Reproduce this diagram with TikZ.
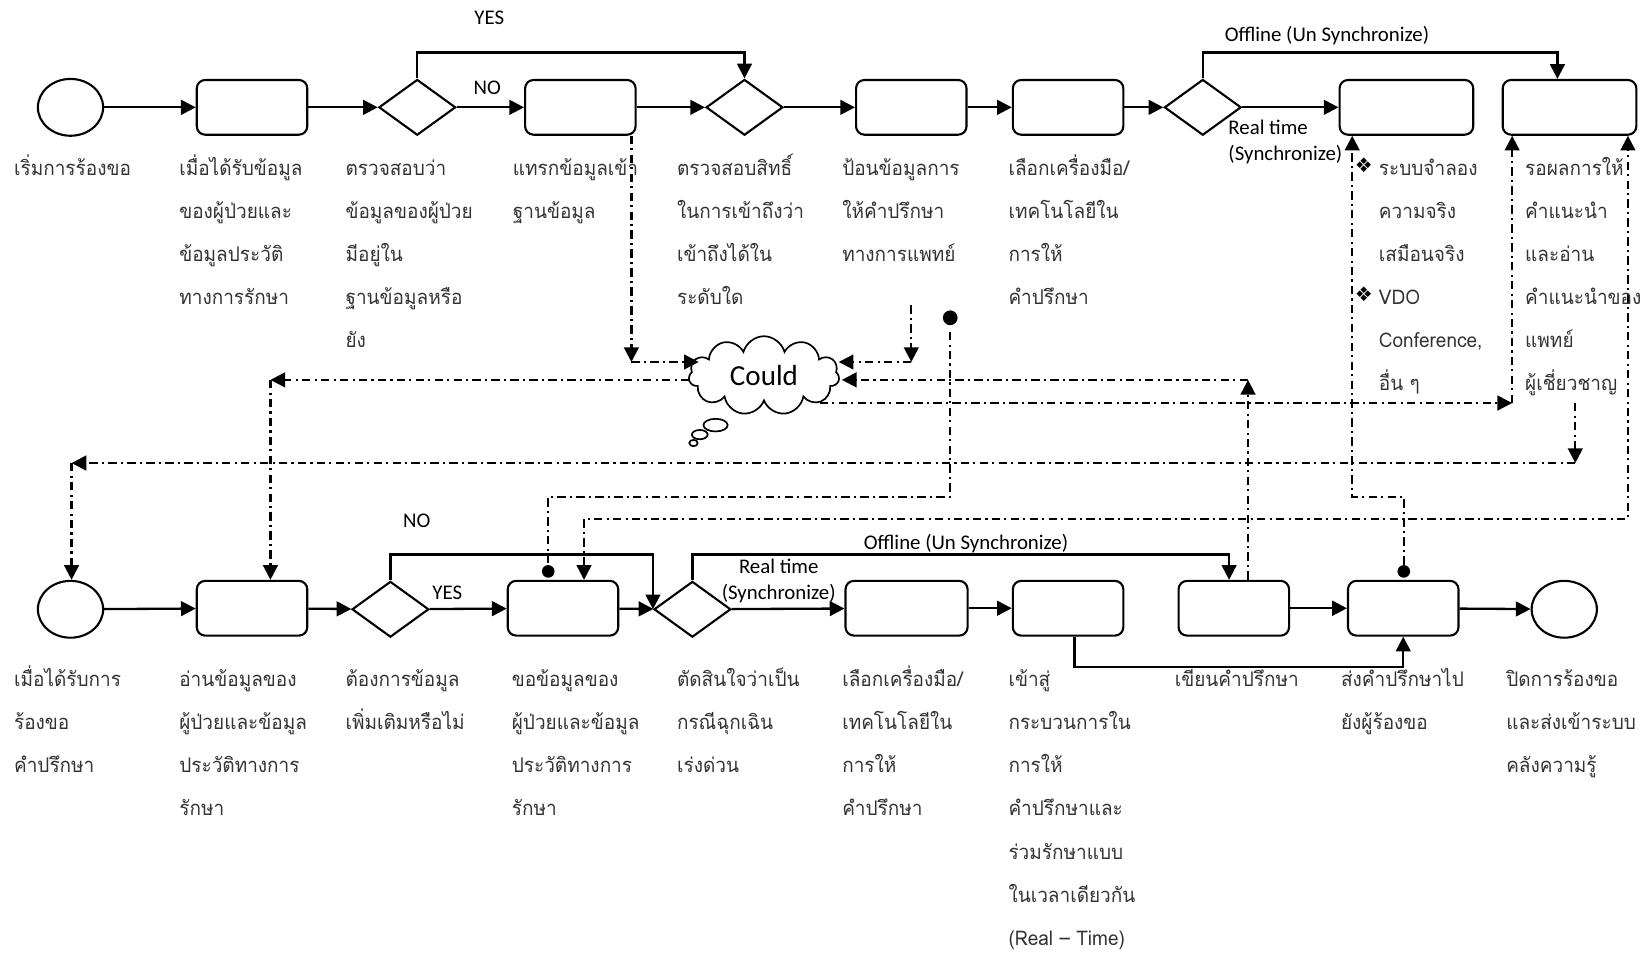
\documentclass[tikz,border=0pt]{standalone}
\usepackage{fontspec}
\usetikzlibrary{shapes.geometric,shapes.symbols,arrows.meta,calc}
\newfontfamily\thaif[Script=Thai,FakeStretch=0.94]{Loma}
\newfontfamily\latf{Carlito}
\newfontfamily\djv{DejaVu Sans}
\begin{document}
\begin{tikzpicture}[x=0.5pt,y=-0.5pt,
 box/.style={draw, rounded corners=4pt, minimum width=52.5pt, minimum height=26pt, inner sep=0, line width=1pt},
 dec/.style={draw, diamond, minimum width=36.5pt, minimum height=26.5pt, inner sep=0, line width=1pt},
 term/.style={draw, ellipse, minimum width=31pt, minimum height=27pt, inner sep=0, line width=1pt},
 flow/.style={line width=1.1pt, -{Triangle[length=7pt,width=7pt]}},
 dd/.style={line width=1.1pt, dash pattern=on 4pt off 2pt on 1pt off 2pt},
 ahead/.style={-{Triangle[length=7pt,width=7pt]}},
 txt/.style={anchor=north west, inner sep=0, align=left, font=\thaif\fontsize{9.6}{20.5}\selectfont, text=black!80},
 lab/.style={inner sep=0, font=\latf\fontsize{9.9}{12}\selectfont},
 dotn/.style={circle, fill, inner sep=0, minimum size=6pt},
 bul/.style={inner sep=0, font=\djv\fontsize{9.5}{12}\selectfont},
]
\useasboundingbox (0,0) rectangle (1568,906);
% ---------- top row ----------
\node[term] (s) at (67,102) {};
\node[box] (a1) at (239.5,102) {};
\node[dec] (d1) at (396.5,102) {};
\node[box] (a2) at (551.5,102) {};
\node[dec] (d2) at (707.5,102) {};
\node[box] (a3) at (866,102) {};
\node[box] (a4) at (1015,102) {};
\node[dec] (d3) at (1143,102) {};
\node[box, minimum width=63.5pt] (a5) at (1336.5,102) {};
\node[box, minimum width=63.5pt] (a6) at (1491.5,102) {};
% ---------- bottom row ----------
\node[term] (s2) at (67,579) {};
\node[box] (b1) at (239.5,578) {};
\node[dec] (e1) at (371,579) {};
\node[box] (b2) at (535,578) {};
\node[dec] (e2) at (658,579) {};
\node[box, minimum width=58pt] (b3) at (861.5,578) {};
\node[box] (b4) at (1015,578) {};
\node[box] (b5) at (1172.5,578) {};
\node[box] (b6) at (1333.5,578) {};
\node[term] (s3) at (1486.5,579) {};
% ---------- cloud ----------
\node[cloud, draw, cloud puffs=11, aspect=2, minimum width=71.5pt, minimum height=37.5pt, line width=0.8pt, inner sep=0, font=\latf\fontsize{13.8}{15}\selectfont] (cl) at (726,357) {Could};
\draw[line width=0.8pt] (680,404) ellipse [x radius=5.75pt, y radius=3pt];
\draw[line width=0.8pt] (665,413) ellipse [x radius=3.75pt, y radius=2.2pt];
\draw[line width=0.8pt] (659,421) ellipse [x radius=2pt, y radius=1.5pt];
% ---------- solid connectors top ----------
\draw[flow] (s) -- (a1);
\draw[flow] (a1) -- (d1);
\draw[flow] (d1) -- (a2);
\draw[flow] (d1.north) -- (d1.north |- 0,50) -| (d2.north);
\draw[flow] (a2) -- (d2);
\draw[flow] (d2) -- (a3);
\draw[flow] (a3) -- (a4);
\draw[flow] (a4) -- (d3);
\draw[flow] (d3) -- (a5);
\draw[flow] (d3.north) -- (d3.north |- 0,50) -| ([xshift=-5.75pt]a6.north);
% ---------- solid connectors bottom ----------
\draw[flow] (s2) -- (b1);
\draw[flow] (b1) -- (e1);
\draw[flow] (e1) -- (b2);
\draw[flow] (e1.north) -- (e1.north |- 0,527) -| (e2.west);
\draw[flow] (b2) -- (e2);
\draw[flow] (e2) -- (b3);
\draw[flow] (e2.north) -- (e2.north |- 0,527) -| ([xshift=-2.25pt]b5.north);
\draw[flow] (b3) -- (b4);
\draw[flow] ([xshift=3pt]b4.south) -- ++(0,29) -| (b6.south);
\draw[flow] (b5) -- (b6);
\draw[flow] (b6) -- (s3);
% ---------- dash-dot connectors ----------
\coordinate (c1) at (600,344);
\coordinate (cl1) at (664,344);
\draw[dd,ahead] ([xshift=24.25pt]a2.south) -- (c1);
\draw[dd,ahead] (c1) -- (cl1);
\coordinate (f2) at (866,290);
\coordinate (c2) at (866,344);
\coordinate (cl2) at (797,344);
\draw[dd,ahead] (f2) -- (c2);
\draw[dd,ahead] (c2) -- (cl2);
\node[dotn, minimum size=7pt] (dt1) at (903,302) {};
\node[dotn] (dt2) at (521,543) {};
\draw[dd] ([yshift=-3pt]dt1.south) -- (dt1 |- 0,472) -| (dt2);
\coordinate (cl3) at (655,361);
\coordinate (c3) at (257,361);
\draw[dd,ahead] (cl3) -- (c3);
\draw[dd,ahead] (c3) -- (c3 |- b1.north);
\coordinate (f4) at (1497,383);
\coordinate (c4) at (1497,440);
\coordinate (c5) at (68,440);
\draw[dd,ahead] (f4) -- (c4);
\draw[dd,ahead] (c4) -- (c5);
\draw[dd,ahead] (c5) -- (c5 |- s2.north);
\coordinate (cl5) at (779,383);
\coordinate (c6) at (1437,383);
\draw[dd,ahead] (cl5) -- (c6);
\draw[dd,ahead] (c6) -- (c6 |- a6.south);
\coordinate (c7) at (1186,361);
\coordinate (cl7) at (800,361);
\draw[dd,ahead] (c7 |- b5.north) -- (c7);
\draw[dd,ahead] (c7) -- (cl7);
\node[dotn] (dt3) at (1334,543) {};
\draw[dd,ahead] (dt3) -- (dt3 |- 0,472) -| ([xshift=-25.75pt]a5.south);
\draw[dd,{Triangle[length=7pt,width=7pt]}-{Triangle[length=7pt,width=7pt]}] ([xshift=10pt]b2.north) -- ++(0,-58) -| ([xshift=27.75pt]a6.south);
% ---------- labels ----------
\node[lab] (l1) at (465,17) {YES};
\node[lab] (l2) at (463,83) {NO};
\node[lab] (l3) at (1261,34) {Offline (Un Synchronize)};
\node[lab, align=left, anchor=west] (l4) at (1167,135) {Real time\\(Synchronize)};
\node[lab] (l5) at (396,495) {NO};
\node[lab] (l6) at (425,563) {YES};
\node[lab] (l7) at (918,517) {Offline (Un Synchronize)};
\node[lab, align=center] (l8) at (740,552) {Real time\\(Synchronize)};
% ---------- texts top ----------
\node[txt] (t0) at (13,137.3) {\strut เริ่มการร้องขอ};
\node[txt] (t1) at (170,137.3) {\strut เมื่อได้รับข้อมูล\\ของผู้ป่วยและ\\ข้อมูลประวัติ\\ทางการรักษา};
\node[txt] (t2) at (328,137.3) {\strut ตรวจสอบว่า\\ข้อมูลของผู้ป่วย\\มีอยู่ใน\\ฐานข้อมูลหรือ\\ยัง};
\node[txt] (t3) at (487,137.3) {\strut แทรกข้อมูลเข้า\\ฐานข้อมูล};
\node[txt] (t4) at (643,137.3) {\strut ตรวจสอบสิทธิ์\\ในการเข้าถึงว่า\\เข้าถึงได้ใน\\ระดับใด};
\node[txt] (t5) at (800,137.3) {\strut ป้อนข้อมูลการ\\ให้คำปรึกษา\\ทางการแพทย์};
\node[txt] (t6) at (958,137.3) {\strut เลือกเครื่องมือ/\\เทคโนโลยีใน\\การให้\\คำปรึกษา};
\node[txt] (t7) at (1310,137.3) {\strut ระบบจำลอง\\ความจริง\\เสมือนจริง\\VDO\\Conference,\\อื่น ๆ};
\node[bul] (bu1) at (1296,157) {❖};
\node[bul] (bu2) at (1296,280) {❖};
\node[txt] (t8) at (1449,137.3) {\strut รอผลการให้\\คำแนะนำ\\และอ่าน\\คำแนะนำของ\\แพทย์\\ผู้เชี่ยวชาญ};
% ---------- texts bottom ----------
\node[txt] (u0) at (13,623.3) {\strut เมื่อได้รับการ\\ร้องขอ\\คำปรึกษา};
\node[txt] (u1) at (170,623.3) {\strut อ่านข้อมูลของ\\ผู้ป่วยและข้อมูล\\ประวัติทางการ\\รักษา};
\node[txt] (u2) at (328,623.3) {\strut ต้องการข้อมูล\\เพิ่มเติมหรือไม่};
\node[txt] (u3) at (486,623.3) {\strut ขอข้อมูลของ\\ผู้ป่วยและข้อมูล\\ประวัติทางการ\\รักษา};
\node[txt] (u4) at (643,623.3) {\strut ตัดสินใจว่าเป็น\\กรณีฉุกเฉิน\\เร่งด่วน};
\node[txt] (u5) at (800,623.3) {\strut เลือกเครื่องมือ/\\เทคโนโลยีใน\\การให้\\คำปรึกษา};
\node[txt] (u6) at (958,623.3) {\strut เข้าสู่\\กระบวนการใน\\การให้\\คำปรึกษาและ\\ร่วมรักษาแบบ\\ในเวลาเดียวกัน\\(Real – Time)};
\node[txt] (u7) at (1116,623.3) {\strut เขียนคำปรึกษา};
\node[txt] (u8) at (1274,623.3) {\strut ส่งคำปรึกษาไป\\ยังผู้ร้องขอ};
\node[txt] (u9) at (1431,623.3) {\strut ปิดการร้องขอ\\และส่งเข้าระบบ\\คลังความรู้};
\end{tikzpicture}
\end{document}
